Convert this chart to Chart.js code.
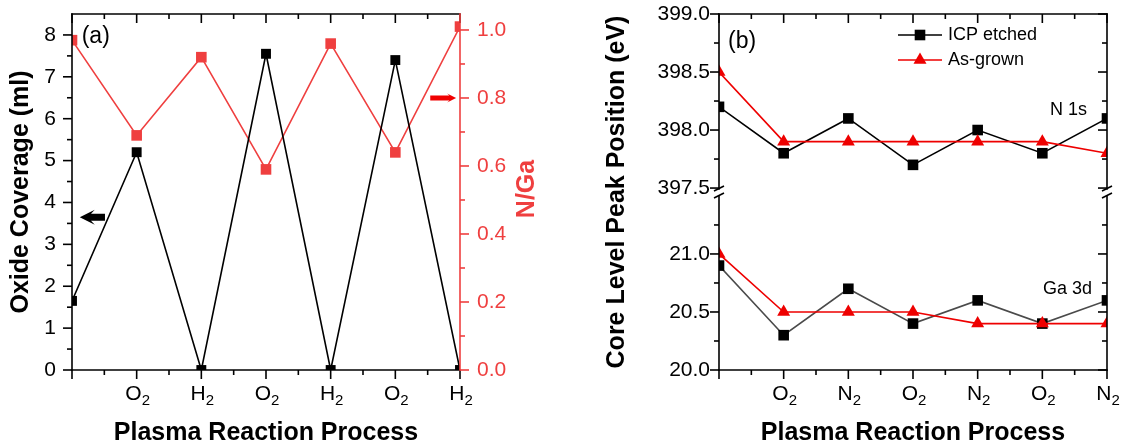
<!DOCTYPE html>
<html>
<head>
<meta charset="utf-8">
<title>Plasma reaction process</title>
<script src="https://cdn.jsdelivr.net/npm/chart.js@4.4.1/dist/chart.umd.min.js"></script>
<style>
  html, body { margin: 0; padding: 0; background: #fff; }
  #figure { position: relative; width: 1125px; height: 446px; }
  #figure canvas { position: absolute; top: 0; }
  #chartA { left: 0; }
  #chartB { left: 560px; }
</style>
</head>
<body>
<div id="figure">
  <canvas id="chartA" width="560" height="446"></canvas>
  <canvas id="chartB" width="565" height="446"></canvas>
</div>
<script>
// --- DATA ---
// (a) oxide coverage (ml) and N/Ga ratio after each plasma step
// step labels: last character is drawn as a subscript
const stepsA = ['', 'O2', 'H2', 'O2', 'H2', 'O2', 'H2'];
const oxideCoverage = [1.65, 5.2, 0, 7.55, 0, 7.4, 0];
const nGaRatio = [0.97, 0.69, 0.92, 0.59, 0.96, 0.64, 1.01];
const oxideTicks = [0, 1, 2, 3, 4, 5, 6, 7, 8];
const ratioTicks = [0, 0.2, 0.4, 0.6, 0.8, 1.0];

// (b) core level peak positions (eV)
const stepsB = ['', 'O2', 'N2', 'O2', 'N2', 'O2', 'N2'];
const n1sEtched = [398.2, 397.8, 398.1, 397.7, 398.0, 397.8, 398.1];
const n1sGrown = [398.5, 397.9, 397.9, 397.9, 397.9, 397.9, 397.8];
const ga3dEtched = [20.9, 20.3, 20.7, 20.4, 20.6, 20.4, 20.6];
const ga3dGrown = [21.0, 20.5, 20.5, 20.5, 20.4, 20.4, 20.4];
const n1sTicks = [397.5, 398.0, 398.5, 399.0];
const ga3dTicks = [20.0, 20.5, 21.0];

// minor tick positions
const stepIndex = [0, 1, 2, 3, 4, 5, 6];
const halfSteps = [0.5, 1.5, 2.5, 3.5, 4.5, 5.5];
const oxideMinor = [0.5, 1.5, 2.5, 3.5, 4.5, 5.5, 6.5, 7.5];
const ratioMinor = [0.1, 0.3, 0.5, 0.7, 0.9];
const n1sMinor = [397.75, 398.25, 398.75];
const ga3dMinor = [20.25, 20.75, 21.25];

// --- STYLE ---
const FONT = "'Liberation Sans', Arial, Helvetica, sans-serif";
const RED_A = '#ef3f3f';
const RED_B = '#ee0000';
const TICK_SIZE = 21;
Chart.defaults.font.family = FONT;
Chart.defaults.color = '#000';

const pts = arr => arr.map((v, i) => ({ x: i, y: v }));

function seg(ctx, x1, y1, x2, y2) {
    ctx.beginPath(); ctx.moveTo(x1, y1); ctx.lineTo(x2, y2); ctx.stroke();
}
function xTicks(ctx, scale, values, y, len) {
    values.forEach(v => { const p = scale.getPixelForValue(v); seg(ctx, p, y, p, y + len); });
}
function yTicks(ctx, scale, values, x, len) {
    values.forEach(v => { const p = scale.getPixelForValue(v); seg(ctx, x, p, x + len, p); });
}
function arrow(ctx, tipX, tipY, tailX, h, s, color) {
    const d = Math.sign(tailX - tipX);
    const hl = 2 * h;
    ctx.fillStyle = color;
    ctx.beginPath();
    ctx.moveTo(tipX, tipY);
    ctx.lineTo(tipX + d * hl, tipY - h);
    ctx.lineTo(tipX + d * hl * 0.75, tipY - s);
    ctx.lineTo(tailX, tipY - s);
    ctx.lineTo(tailX, tipY + s);
    ctx.lineTo(tipX + d * hl * 0.75, tipY + s);
    ctx.lineTo(tipX + d * hl, tipY + h);
    ctx.closePath();
    ctx.fill();
}
function label(ctx, text, x, y, size, color, weight) {
    ctx.font = (weight || '') + ' ' + size + 'px ' + FONT;
    ctx.fillStyle = color || '#000';
    ctx.textAlign = 'left';
    ctx.textBaseline = 'middle';
    ctx.fillText(text, x, y);
}
function vTitle(ctx, text, cx, cy, color) {
    ctx.save();
    ctx.translate(cx, cy);
    ctx.rotate(-Math.PI / 2);
    ctx.font = 'bold 25px ' + FONT;
    ctx.fillStyle = color;
    ctx.textAlign = 'center';
    ctx.textBaseline = 'middle';
    ctx.fillText(text, 0, 0);
    ctx.restore();
}
// gas labels with subscript, e.g. O2 -> O + lowered "2"
function stepLabels(ctx, scale, labels, baseline) {
    ctx.save();
    ctx.fillStyle = '#000';
    ctx.textBaseline = 'alphabetic';
    ctx.textAlign = 'left';
    labels.forEach((t, i) => {
        if (!t) return;
        const base = t.slice(0, -1), sub = t.slice(-1);
        ctx.font = TICK_SIZE + 'px ' + FONT;
        const wb = ctx.measureText(base).width;
        ctx.font = '15px ' + FONT;
        const ws = ctx.measureText(sub).width;
        const x0 = scale.getPixelForValue(i) - (wb + ws) / 2 + 1;
        ctx.font = TICK_SIZE + 'px ' + FONT;
        ctx.fillText(base, x0, baseline);
        ctx.font = '15px ' + FONT;
        ctx.fillText(sub, x0 + wb, baseline + 5);
    });
    ctx.restore();
}

// --- PANEL (a) frame, ticks, arrows ---
const panelA = {
    id: 'panelA',
    afterDatasetsDraw(chart) {
        const { ctx, chartArea: a, scales: { x, y, y2 } } = chart;
        ctx.save();
        ctx.lineWidth = 1.6;
        ctx.lineCap = 'square';
        ctx.strokeStyle = '#000';
        seg(ctx, a.left, a.top, a.right, a.top);
        seg(ctx, a.left, a.bottom, a.right, a.bottom);
        seg(ctx, a.left, a.top, a.left, a.bottom);
        ctx.lineCap = 'butt';
        xTicks(ctx, x, stepIndex, a.bottom, 9);
        xTicks(ctx, x, halfSteps, a.bottom, 5);
        xTicks(ctx, x, stepIndex, a.top, 9);
        xTicks(ctx, x, halfSteps, a.top, 5);
        yTicks(ctx, y, oxideTicks, a.left, -9);
        yTicks(ctx, y, oxideMinor, a.left, -5);
        ctx.strokeStyle = RED_A;
        ctx.lineCap = 'square';
        seg(ctx, a.right, a.top, a.right, a.bottom);
        ctx.lineCap = 'butt';
        yTicks(ctx, y2, ratioTicks, a.right, 9);
        yTicks(ctx, y2, ratioMinor, a.right, 5);

        arrow(ctx, x.getPixelForValue(0.12), y.getPixelForValue(3.65), x.getPixelForValue(0.51), 7.5, 3.5, '#000');
        arrow(ctx, x.getPixelForValue(5.94), y2.getPixelForValue(0.80), x.getPixelForValue(5.54), 4.5, 2.5, '#f00000');

        label(ctx, '(a)', x.getPixelForValue(0.15), y.getPixelForValue(7.95), 23);
        stepLabels(ctx, x, stepsA, a.bottom + 30);
        vTitle(ctx, 'N/Ga', a.right + 67, (a.top + a.bottom) / 2 - 3, RED_A);
        ctx.restore();
    }
};

// --- PANEL (b) frame with axis break, legend, labels ---
const panelB = {
    id: 'panelB',
    afterDatasetsDraw(chart) {
        const { ctx, chartArea: a, scales: { x, yTop, yBot } } = chart;
        const breakTop = yTop.getPixelForValue(n1sTicks[0]) + 1;
        const breakBot = yBot.getPixelForValue(21.5);
        ctx.save();
        ctx.lineWidth = 1.6;
        ctx.strokeStyle = '#000';
        ctx.lineCap = 'square';
        seg(ctx, a.left, a.top, a.right, a.top);
        seg(ctx, a.left, a.bottom, a.right, a.bottom);
        for (const ex of [a.left, a.right]) {
            ctx.lineCap = 'square';
            seg(ctx, ex, a.top, ex, breakTop);
            seg(ctx, ex, breakBot, ex, a.bottom);
            ctx.lineCap = 'butt';
            seg(ctx, ex - 5, breakTop + 2, ex + 5, breakTop - 3);
            seg(ctx, ex - 5, breakBot + 2, ex + 5, breakBot - 3);
        }
        xTicks(ctx, x, stepIndex, a.bottom, 9);
        xTicks(ctx, x, halfSteps, a.bottom, 5);
        xTicks(ctx, x, stepIndex, a.top, 9);
        xTicks(ctx, x, halfSteps, a.top, 5);
        yTicks(ctx, yTop, n1sTicks, a.left, -9);
        yTicks(ctx, yTop, n1sMinor, a.left, -5);
        yTicks(ctx, yBot, ga3dTicks, a.left, -9);
        yTicks(ctx, yBot, ga3dMinor, a.left, -5);
        yTicks(ctx, yTop, n1sTicks, a.right, -9);
        yTicks(ctx, yTop, n1sMinor, a.right, -5);
        yTicks(ctx, yBot, ga3dTicks, a.right, -9);
        yTicks(ctx, yBot, ga3dMinor, a.right, -5);

        // legend
        const ds = chart.data.datasets;
        const rows = [ds[2], ds[0]];
        rows.forEach((d, i) => {
            const lx = a.left + 179, ly = a.top + 21 + i * 25;
            ctx.strokeStyle = d.borderColor;
            ctx.lineWidth = d.borderWidth;
            seg(ctx, lx, ly, lx + 44, ly);
            ctx.fillStyle = d.backgroundColor;
            Chart.helpers.drawPoint(ctx, { pointStyle: d.pointStyle, radius: d.pointRadius, borderWidth: 0, rotation: 0 }, lx + 22, ly);
            label(ctx, d.label, lx + 50, ly, 18);
        });

        label(ctx, '(b)', x.getPixelForValue(0.14), yTop.getPixelForValue(398.76), 23);
        label(ctx, 'N 1s', x.getPixelForValue(5.12), yTop.getPixelForValue(398.17), 18);
        label(ctx, 'Ga 3d', x.getPixelForValue(5.01), yBot.getPixelForValue(20.70), 18);
        stepLabels(ctx, x, stepsB, a.bottom + 30);

        // shared y title across the broken axis
        vTitle(ctx, 'Core Level Peak Position (eV)', 57, (a.top + a.bottom) / 2, '#000');
        ctx.restore();
    }
};

const common = { responsive: false, animation: false, events: [], devicePixelRatio: 1 };
const noGrid = { display: false, drawTicks: false };
const xTitle = { display: true, text: 'Plasma Reaction Process', color: '#000', font: { size: 25, weight: 'bold', lineHeight: 1.05 }, padding: { top: 0, bottom: 0 } };
// fixed axis box sizes, no automatic label padding
const fixBox = (w, h) => s => {
    if (w) s.width = w;
    if (h) s.height = h;
    s.paddingTop = s.paddingBottom = s.paddingLeft = s.paddingRight = 0;
};

// --- CHART (a) ---
new Chart(document.getElementById('chartA'), {
    type: 'line',
    data: {
        datasets: [
            { label: 'Oxide coverage', data: pts(oxideCoverage), yAxisID: 'y', borderColor: '#000', backgroundColor: '#000',
              borderWidth: 1.6, pointStyle: 'rect', pointRadius: 7, pointBorderWidth: 0 },
            { label: 'N/Ga', data: pts(nGaRatio), yAxisID: 'y2', borderColor: RED_A, backgroundColor: RED_A,
              borderWidth: 1.6, pointStyle: 'rect', pointRadius: 7.5, pointBorderWidth: 0 }
        ]
    },
    options: {
        ...common,
        layout: { autoPadding: false, padding: { top: 14, right: 0, bottom: 0, left: 0 } },
        plugins: { legend: { display: false }, tooltip: { enabled: false } },
        scales: {
            x: {
                type: 'linear', min: 0, max: 6,
                afterBuildTicks: s => { s.ticks = stepIndex.map(v => ({ value: v })); },
                afterFit: fixBox(0, 76),
                grid: noGrid, border: { display: false },
                ticks: { display: false },
                title: xTitle
            },
            y: {
                type: 'linear', position: 'left', min: 0, max: 8.5,
                afterBuildTicks: s => { s.ticks = oxideTicks.map(v => ({ value: v })); },
                afterFit: fixBox(72, 0),
                grid: noGrid, border: { display: false },
                ticks: { padding: 16, font: { size: TICK_SIZE } },
                title: { display: true, text: 'Oxide Coverage (ml)', color: '#000', font: { size: 25, weight: 'bold' }, padding: { top: 6, bottom: 6 } }
            },
            y2: {
                type: 'linear', position: 'right', min: 0, max: 1.047,
                afterBuildTicks: s => { s.ticks = ratioTicks.map(v => ({ value: v })); },
                afterFit: fixBox(100, 0),
                grid: noGrid, border: { display: false },
                ticks: { padding: 17, color: RED_A, font: { size: TICK_SIZE }, callback: v => v.toFixed(1) }
            }
        }
    },
    plugins: [panelA]
});

// --- CHART (b) ---
new Chart(document.getElementById('chartB'), {
    type: 'line',
    data: {
        datasets: [
            { label: 'As-grown', data: pts(n1sGrown), yAxisID: 'yTop', borderColor: RED_B, backgroundColor: RED_B,
              borderWidth: 1.6, pointStyle: 'triangle', pointRadius: 7.5, pointBorderWidth: 0, order: 0 },
            { label: 'As-grown', data: pts(ga3dGrown), yAxisID: 'yBot', borderColor: RED_B, backgroundColor: RED_B,
              borderWidth: 1.6, pointStyle: 'triangle', pointRadius: 7.5, pointBorderWidth: 0, order: 0 },
            { label: 'ICP etched', data: pts(n1sEtched), yAxisID: 'yTop', borderColor: '#000', backgroundColor: '#000',
              borderWidth: 1.6, pointStyle: 'rect', pointRadius: 7.5, pointBorderWidth: 0, order: 1 },
            { label: 'ICP etched', data: pts(ga3dEtched), yAxisID: 'yBot', borderColor: '#4a4a4a', backgroundColor: '#000',
              borderWidth: 1.6, pointStyle: 'rect', pointRadius: 7.5, pointBorderWidth: 0, order: 1 }
        ]
    },
    options: {
        ...common,
        layout: { autoPadding: false, padding: { top: 14, right: 18, bottom: 0, left: 0 } },
        plugins: { legend: { display: false }, tooltip: { enabled: false } },
        scales: {
            x: {
                type: 'linear', min: 0, max: 6,
                afterBuildTicks: s => { s.ticks = stepIndex.map(v => ({ value: v })); },
                afterFit: fixBox(0, 76),
                grid: noGrid, border: { display: false },
                ticks: { display: false },
                title: xTitle
            },
            yBot: {
                type: 'linear', position: 'left', stack: 'core', stackWeight: 1, min: 20.0, max: 21.534,
                afterBuildTicks: s => { s.ticks = ga3dTicks.map(v => ({ value: v })); },
                afterFit: fixBox(159, 0),
                grid: noGrid, border: { display: false },
                ticks: { padding: 9, font: { size: TICK_SIZE }, callback: v => v.toFixed(1) }
            },
            yTop: {
                type: 'linear', position: 'left', stack: 'core', stackWeight: 1, min: 397.466, max: 399.0,
                afterBuildTicks: s => { s.ticks = n1sTicks.map(v => ({ value: v })); },
                afterFit: fixBox(159, 0),
                grid: noGrid, border: { display: false },
                ticks: { padding: 9, font: { size: TICK_SIZE }, callback: v => v.toFixed(1) }
            }
        }
    },
    plugins: [panelB]
});
</script>
</body>
</html>
